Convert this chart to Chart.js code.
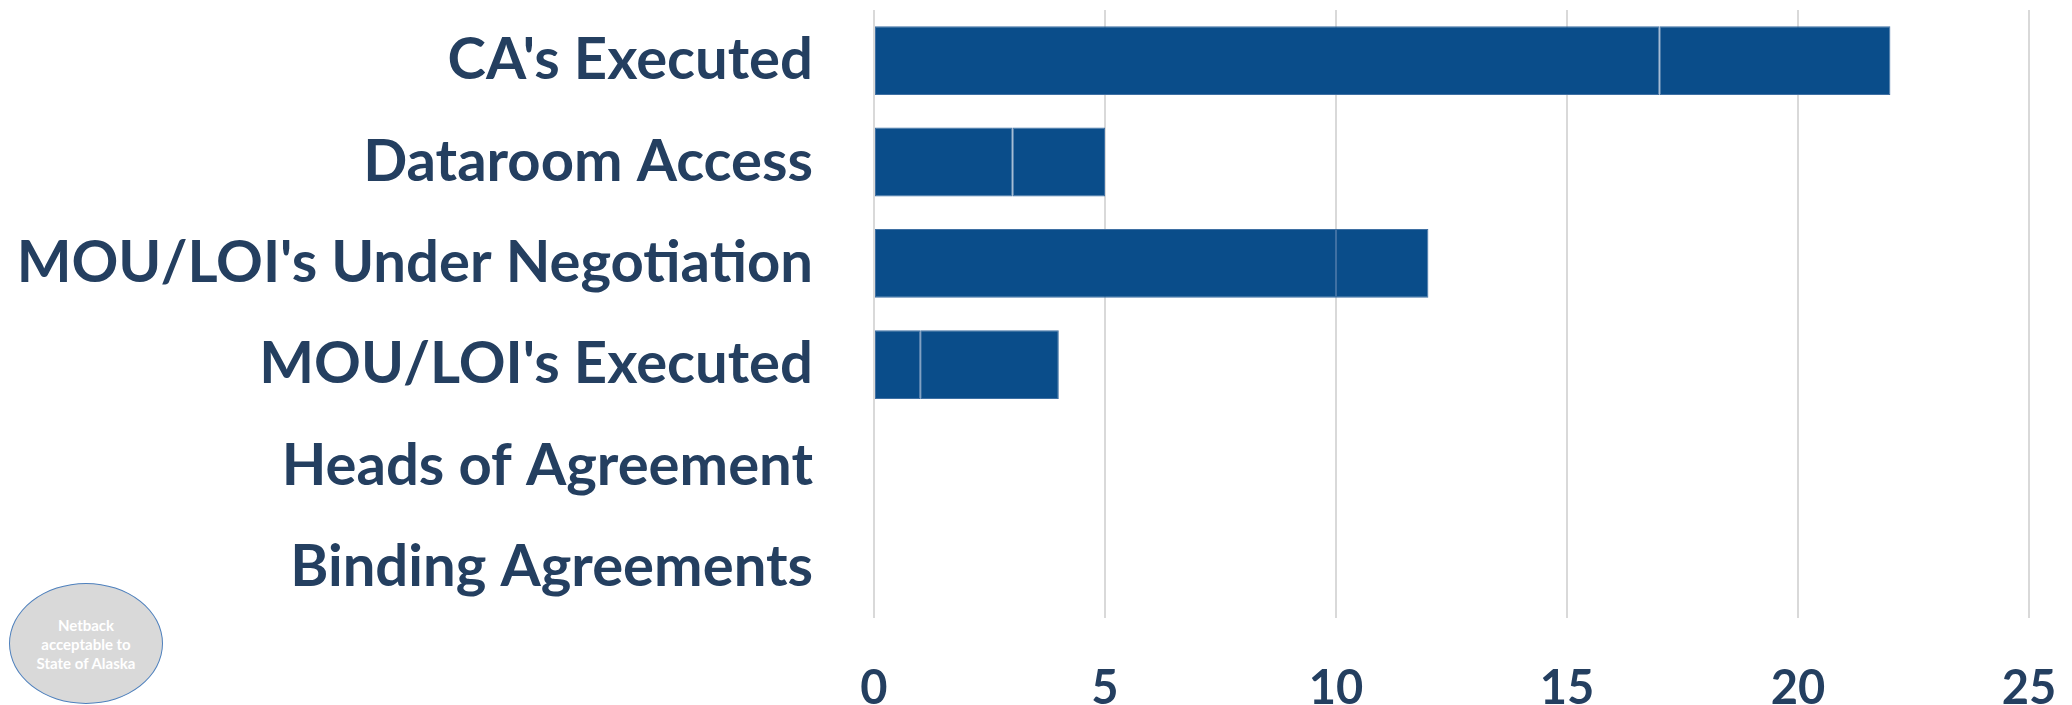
<!DOCTYPE html>
<html>
<head>
<meta charset="utf-8">
<script src="https://cdn.jsdelivr.net/npm/chart.js@4"></script>
<style>
  html, body { margin: 0; padding: 0; background: #fff; }
  #wrap { position: relative; width: 2072px; height: 705px; overflow: hidden; }
  #badge {
    position: absolute; left: 9px; top: 583px; width: 154px; height: 121px;
    border-radius: 50%; background: #d9d9d9; border: 1.5px solid #4f81bd;
    box-sizing: border-box; color: #fff; font: bold 15px Lato, sans-serif;
    text-align: center; padding-top: 32px; line-height: 19px;
  }
</style>
</head>
<body>
<div id="wrap">
  <canvas id="myChart"></canvas>
  <div id="badge">Netback<br>acceptable to<br>State of Alaska</div>
</div>
<script>
const stages = ["CA's Executed", 'Dataroom Access', "MOU/LOI's Under Negotiation", "MOU/LOI's Executed", 'Heads of Agreement', 'Binding Agreements'];
const firstPart = [17, 3, 10, 1, 0, 0];
const secondPart = [5, 2, 2, 3, 0, 0];
const xTicks = [0, 5, 10, 15, 20, 25];

const navy = '#243f60';
const barBlue = '#0a4d8a';
const barEdge = '#3f70a3';

const ctx = document.getElementById('myChart');
new Chart(ctx, {
  type: 'bar',
  data: {
    labels: stages,
    datasets: [{
      data: firstPart,
      backgroundColor: barBlue,
      borderColor: barEdge,
      borderWidth: 1,
      borderSkipped: false
    }, {
      data: secondPart,
      backgroundColor: barBlue,
      borderColor: barEdge,
      borderWidth: 1,
      borderSkipped: false
    }]
  },
  options: {
    indexAxis: 'y',
    responsive: true,
    maintainAspectRatio: false,
    animation: false,
    layout: { padding: { top: 10, right: 43, left: 0, bottom: 0 } },
    datasets: { bar: { categoryPercentage: 1, barPercentage: 0.68 } },
    plugins: { legend: { display: false }, tooltip: { enabled: false } },
    scales: {
      x: {
        stacked: true,
        min: 0,
        max: 25,
        afterBuildTicks: (scale) => { scale.ticks = xTicks.map(v => ({ value: v })); },
        grid: { color: '#d9d9d9', lineWidth: 2, drawTicks: false },
        border: { display: false },
        ticks: { color: navy, font: { family: 'Lato', weight: 'bold', size: 47 }, padding: 43 },
        afterFit: (scale) => {
          scale.height = 87;
          scale.paddingLeft = 0;
          scale.paddingRight = 0;
        }
      },
      y: {
        stacked: true,
        grid: { display: false },
        border: { display: false },
        ticks: { color: navy, font: { family: 'Lato', weight: 'bold', size: 58 }, padding: 53 },
        afterFit: (scale) => {
          scale.width = 874;
          scale.paddingTop = 0;
          scale.paddingBottom = 0;
        }
      }
    }
  }
});
</script>
</body>
</html>
